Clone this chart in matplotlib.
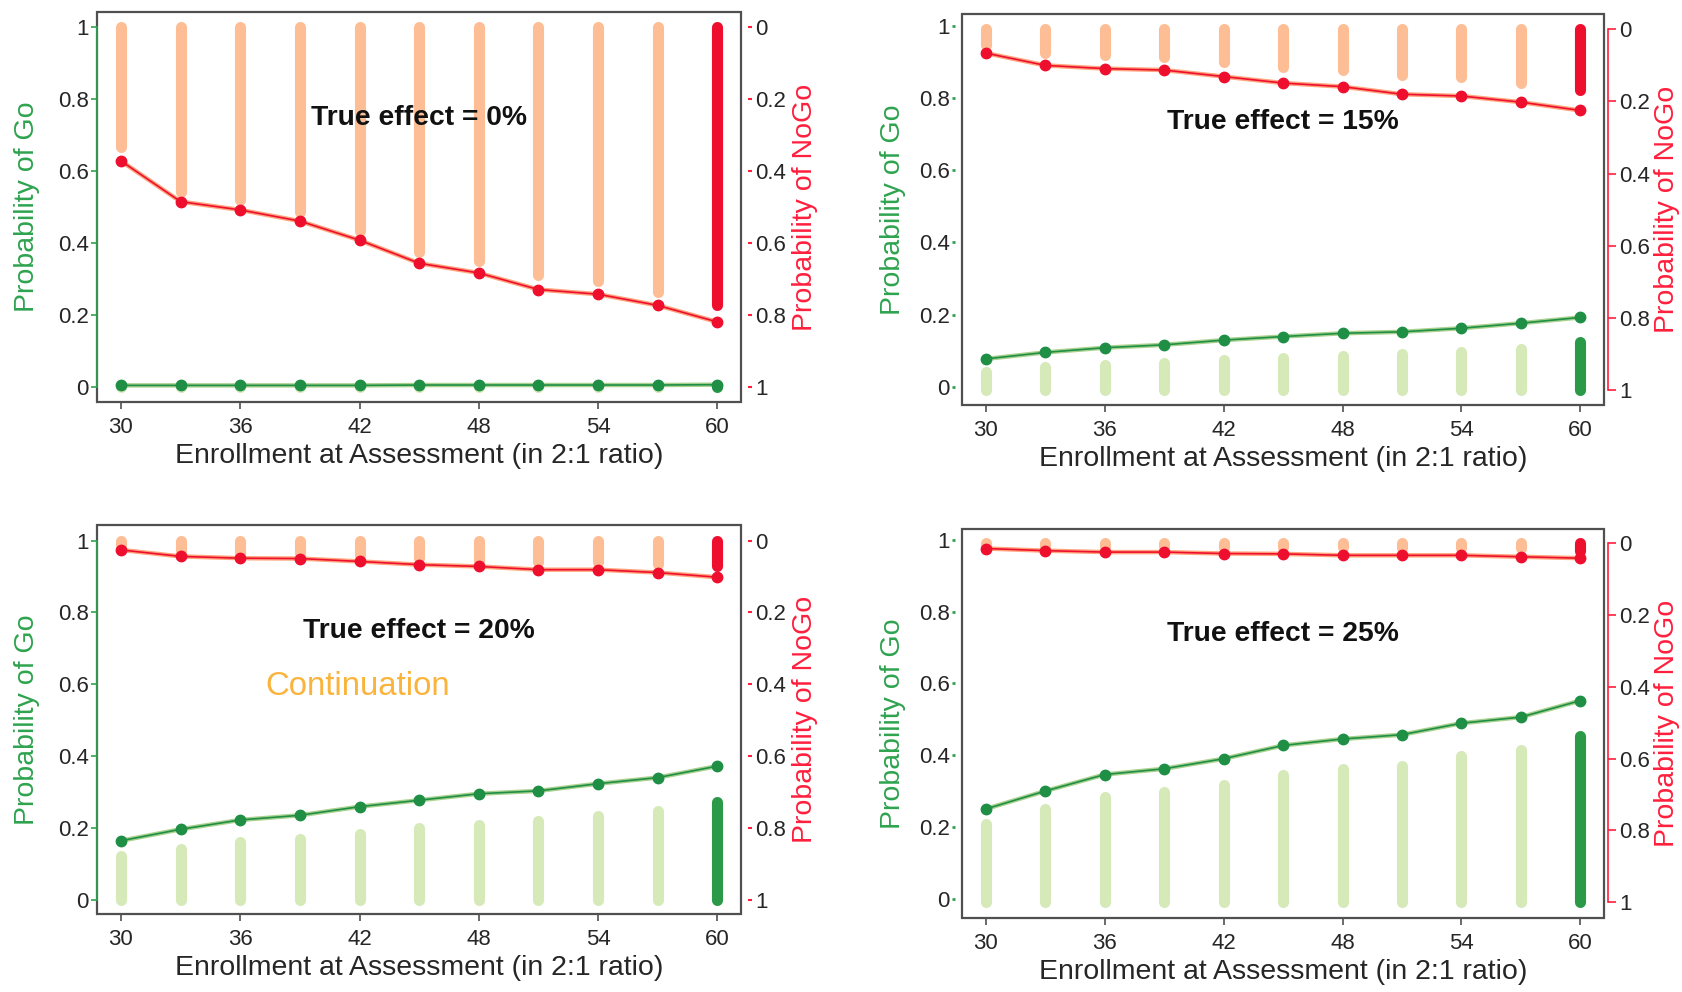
import matplotlib
matplotlib.use('Agg')
import matplotlib.pyplot as plt

plt.rcParams['font.family'] = ['Liberation Sans', 'DejaVu Sans']

# ---------------- data ----------------
enrollment = [30, 33, 36, 39, 42, 45, 48, 51, 54, 57, 60]
x_ticks = [30, 36, 42, 48, 54, 60]
y_ticks = [0, 0.2, 0.4, 0.6, 0.8, 1]
y_tick_labels = ['0', '0.2', '0.4', '0.6', '0.8', '1']
effects = ['0%', '15%', '20%', '25%']

# True effect = 0%
go_0 = [0.004, 0.004, 0.004, 0.004, 0.004, 0.005, 0.005, 0.005, 0.005, 0.005, 0.006]
go_band_0 = [0.002, 0.002, 0.002, 0.002, 0.002, 0.002, 0.002, 0.002, 0.002, 0.002, 0.002]
nogo_0 = [0.373, 0.486, 0.509, 0.540, 0.593, 0.657, 0.684, 0.730, 0.743, 0.774, 0.820]
nogo_band_0 = [0.335, 0.460, 0.481, 0.514, 0.567, 0.627, 0.650, 0.691, 0.705, 0.738, 0.774]

# True effect = 15%
go_15 = [0.077, 0.095, 0.108, 0.116, 0.129, 0.139, 0.148, 0.152, 0.162, 0.176, 0.192]
go_band_15 = [0.049, 0.063, 0.069, 0.074, 0.083, 0.089, 0.095, 0.100, 0.104, 0.113, 0.132]
nogo_15 = [0.066, 0.100, 0.109, 0.113, 0.131, 0.149, 0.159, 0.180, 0.185, 0.202, 0.225]
nogo_band_15 = [0.044, 0.065, 0.072, 0.077, 0.090, 0.104, 0.113, 0.127, 0.132, 0.148, 0.169]

# True effect = 20%
go_20 = [0.164, 0.196, 0.222, 0.235, 0.259, 0.277, 0.295, 0.303, 0.323, 0.340, 0.372]
go_band_20 = [0.121, 0.141, 0.160, 0.169, 0.184, 0.199, 0.209, 0.218, 0.232, 0.248, 0.273]
nogo_20 = [0.026, 0.044, 0.049, 0.050, 0.058, 0.067, 0.072, 0.081, 0.081, 0.089, 0.102]
nogo_band_20 = [0.012, 0.030, 0.035, 0.035, 0.040, 0.048, 0.057, 0.060, 0.060, 0.065, 0.072]

# True effect = 25%
go_25 = [0.250, 0.300, 0.346, 0.362, 0.390, 0.427, 0.445, 0.457, 0.489, 0.506, 0.552]
go_band_25 = [0.219, 0.261, 0.294, 0.307, 0.328, 0.356, 0.371, 0.381, 0.408, 0.425, 0.462]
nogo_25 = [0.014, 0.020, 0.024, 0.024, 0.028, 0.029, 0.033, 0.033, 0.033, 0.037, 0.041]
nogo_band_25 = [0.006, 0.008, 0.008, 0.008, 0.009, 0.010, 0.011, 0.012, 0.012, 0.013, 0.022]

go_lines = [go_0, go_15, go_20, go_25]
go_bands = [go_band_0, go_band_15, go_band_20, go_band_25]
nogo_lines = [nogo_0, nogo_15, nogo_20, nogo_25]
nogo_bands = [nogo_band_0, nogo_band_15, nogo_band_20, nogo_band_25]

# ---------------- layout / style ----------------
positions = [[0.0577, 0.5948, 0.383, 0.393],
             [0.572, 0.5917, 0.3817, 0.394],
             [0.0577, 0.0786, 0.383, 0.392],
             [0.572, 0.0746, 0.3817, 0.392]]
left_ylims = [(-0.042, 1.040), (-0.051, 1.033), (-0.040, 1.043), (-0.054, 1.030)]
right_ylims = [(1.042, -0.040), (1.042, -0.042), (1.040, -0.043), (1.044, -0.040)]
left_axis_line = [True, False, True, False]
right_axis_line = [False, True, False, True]
text_y = [0.745, 0.735, 0.747, 0.738]

C_ORANGE_BAR = '#FDBE96'
C_RED = '#EE0F2F'
C_RED_SHADOW = '#FFA47C'
C_LGREEN_BAR = '#D6E9B8'
C_DGREEN_BAR = '#2B9A48'
C_GREEN = '#1E8F45'
C_GREEN_SHADOW = '#A9D18E'
C_GREEN_LABEL = '#2EA34E'
C_RED_LABEL = '#FF1F3D'
C_FRAME = '#505050'
C_TEXT = '#262626'

TICK_FS = 16
LABEL_FS = 20.5

fig = plt.figure(figsize=(16.82, 9.92), dpi=100)

for i in range(4):
    ax = fig.add_axes(positions[i])
    ax2 = ax.twinx()
    ax.set_xlim(28.8, 61.2)
    ax.set_ylim(*left_ylims[i])
    ax2.set_ylim(*right_ylims[i])

    # green (Go) layer above bars layer
    ax.set_zorder(ax2.get_zorder() + 1)
    ax.patch.set_facecolor('none')
    ax.patch.set_edgecolor(C_FRAME)
    ax.patch.set_linewidth(1.6)
    for s in ['top', 'right', 'bottom']:
        ax.spines[s].set_visible(False)
    for s in ['top', 'left', 'bottom']:
        ax2.spines[s].set_visible(False)

    # left axis (Go)
    if left_axis_line[i]:
        ax.spines['left'].set_color(C_GREEN_LABEL)
        ax.spines['left'].set_bounds(0, 1)
        ax.spines['left'].set_linewidth(1.2)
        ax.tick_params(axis='y', length=4, width=1.2, color=C_GREEN_LABEL, pad=2)
    else:
        ax.spines['left'].set_position(('outward', 5))
        ax.spines['left'].set_visible(False)
        ax.tick_params(axis='y', length=2, width=2, color=C_GREEN_LABEL, pad=2)

    # right axis (NoGo)
    if right_axis_line[i]:
        ax2.spines['right'].set_position(('outward', 3))
        ax2.spines['right'].set_color(C_RED_LABEL)
        ax2.spines['right'].set_bounds(0, 1)
        ax2.spines['right'].set_linewidth(1.2)
        ax2.tick_params(axis='y', length=6, width=1.2, color=C_RED_LABEL, pad=2)
    else:
        ax2.spines['right'].set_position(('outward', 5))
        ax2.spines['right'].set_visible(False)
        ax2.tick_params(axis='y', length=3, width=1.5, color=C_RED_LABEL, pad=2)

    ax.set_yticks(y_ticks)
    ax.set_yticklabels(y_tick_labels, fontsize=TICK_FS, color=C_TEXT)
    ax2.set_yticks(y_ticks)
    ax2.set_yticklabels(y_tick_labels, fontsize=TICK_FS, color=C_TEXT)
    ax.set_xticks(x_ticks)
    ax.set_xticklabels([str(t) for t in x_ticks], fontsize=TICK_FS, color=C_TEXT)
    ax.tick_params(axis='x', length=5, width=1.2, color=C_FRAME, pad=5.5)

    # bars (drawn in NoGo coordinates)
    n = len(enrollment)
    for k, (xv, v) in enumerate(zip(enrollment, nogo_bands[i])):
        ax2.plot([xv, xv], [0, v], color=C_RED if k == n - 1 else C_ORANGE_BAR,
                 lw=8, solid_capstyle='round', zorder=1)
    for k, (xv, v) in enumerate(zip(enrollment, go_bands[i])):
        ax2.plot([xv, xv], [1, 1 - v], color=C_DGREEN_BAR if k == n - 1 else C_LGREEN_BAR,
                 lw=8, solid_capstyle='round', zorder=1)

    # lines
    ax.plot(enrollment, go_lines[i], color=C_GREEN_SHADOW, lw=3.2, zorder=3)
    ax.plot(enrollment, go_lines[i], color=C_GREEN, lw=1.2, marker='o',
            markersize=7.5, zorder=4)
    ax2.plot(enrollment, nogo_lines[i], color=C_RED_SHADOW, lw=3.2, zorder=3)
    ax2.plot(enrollment, nogo_lines[i], color=C_RED, lw=1.2, marker='o',
             markersize=7.5, zorder=4)

    # labels
    ax.set_ylabel('Probability of Go', fontsize=LABEL_FS, color=C_GREEN_LABEL)
    ax.yaxis.set_label_coords(-0.088, 0.5)
    ax2.set_ylabel('Probability of NoGo', fontsize=LABEL_FS, color=C_RED_LABEL, rotation=90)
    ax2.yaxis.set_label_coords(1.078, 0.5)
    ax.set_xlabel('Enrollment at Assessment (in 2:1 ratio)', fontsize=LABEL_FS, color=C_TEXT)
    ax.xaxis.set_label_coords(0.5, -0.106)

    ax.text(45, text_y[i], 'True effect = ' + effects[i], ha='center', va='center',
            fontsize=20.3, fontweight='bold', color='#111111', zorder=5)
    if i == 2:
        ax.text(41.9, 0.595, 'Continuation', ha='center', va='center',
                fontsize=23.8, color='#FAB43C', zorder=5)

fig.savefig('out.png', dpi=100)
